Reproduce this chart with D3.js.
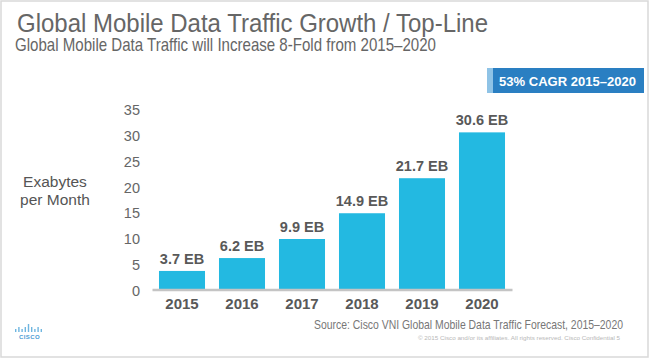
<!DOCTYPE html>
<html><head><meta charset="utf-8">
<script src="https://cdn.jsdelivr.net/npm/d3@7"></script>
<style>
html,body{margin:0;padding:0;background:#fff;}
svg{display:block;font-family:"Liberation Sans",Arial,Helvetica,sans-serif;}
</style></head>
<body>
<svg id="chart" width="650" height="359"></svg>
<script>
const years = ["2015","2016","2017","2018","2019","2020"];
const traffic = [3.7, 6.2, 9.9, 14.9, 21.7, 30.6];
const valueLabels = ["3.7 EB","6.2 EB","9.9 EB","14.9 EB","21.7 EB","30.6 EB"];
const yTicks = [0,5,10,15,20,25,30,35];
const titleText = "Global Mobile Data Traffic Growth / Top-Line";
const subtitleText = "Global Mobile Data Traffic will Increase 8-Fold from 2015\u20132020";
const cagrText = "53% CAGR 2015\u20132020";
const yLabelLines = ["Exabytes","per Month"];
const sourceText = "Source: Cisco VNI Global Mobile Data Traffic Forecast, 2015\u20132020";
const copyrightText = "\u00A9 2015  Cisco and/or its affiliates. All rights reserved.    Cisco Confidential          5";

const svg = d3.select("#chart");

// frame
svg.append("rect").attr("x",1).attr("y",1).attr("width",647).attr("height",356)
  .attr("fill","#fff").attr("stroke","#d9d9d9").attr("stroke-width",1.5);

// titles
svg.append("text").attr("x",17).attr("y",32).attr("font-size",26.5).attr("fill","#666")
  .attr("textLength",471).attr("lengthAdjust","spacingAndGlyphs").text(titleText);
svg.append("text").attr("x",15).attr("y",50.5).attr("font-size",19).attr("fill","#666")
  .attr("textLength",421).attr("lengthAdjust","spacingAndGlyphs").text(subtitleText);

// CAGR box
svg.append("rect").attr("x",487).attr("y",68).attr("width",157).attr("height",25).attr("fill","#2a7fc2");
svg.append("rect").attr("x",487).attr("y",68).attr("width",6).attr("height",25).attr("fill","#8fc3e6");
svg.append("text").attr("x",499).attr("y",85.5).attr("font-size",13).attr("font-weight","bold")
  .attr("fill","#fff").attr("textLength",137).attr("lengthAdjust","spacingAndGlyphs").text(cagrText);

// scales
const x = d3.scaleBand().domain(years).range([152,512]).paddingInner(0.233).paddingOuter(0.1165);
const y = d3.scaleLinear().domain([0,35]).range([290,109.7]);

// y axis ticks (text only)
const yAxis = d3.axisLeft(y).tickValues(yTicks).tickSize(0).tickPadding(0);
const gy = svg.append("g").attr("transform","translate(140,0)").call(yAxis);
gy.select(".domain").remove();
gy.selectAll("text").attr("font-size",14.5).attr("fill","#666")
  .attr("font-family","Liberation Sans, Arial, sans-serif").attr("dy","0.36em");

// y label
svg.append("text").attr("text-anchor","middle").attr("font-size",15.5).attr("fill","#555")
  .selectAll("tspan").data(yLabelLines).join("tspan")
  .attr("x",55).attr("y",(d,i)=>187+i*18).text(d=>d);

// bars
svg.append("g").selectAll("rect").data(traffic).join("rect")
  .attr("x",(d,i)=>x(years[i])).attr("width",x.bandwidth())
  .attr("y",d=>y(d)).attr("height",d=>y(0)-y(d)).attr("fill","#23b9e1");

// value labels
svg.append("g").selectAll("text").data(traffic).join("text")
  .attr("x",(d,i)=>x(years[i])+x.bandwidth()/2).attr("y",d=>y(d)-7)
  .attr("text-anchor","middle").attr("font-size",14.5).attr("font-weight","bold").attr("fill","#595959")
  .text((d,i)=>valueLabels[i]);

// x axis
const xAxis = d3.axisBottom(x).tickSize(0).tickPadding(0);
const gx = svg.append("g").attr("transform","translate(0,289.5)").call(xAxis);
gx.select(".domain").attr("stroke","#c4c4c4").attr("stroke-width",2.5);
gx.selectAll("text").attr("font-size",15).attr("font-weight","bold").attr("fill","#595959")
  .attr("font-family","Liberation Sans, Arial, sans-serif").attr("dy",null).attr("y",19.5);

// source
svg.append("text").attr("x",314).attr("y",329).attr("font-size",13).attr("fill","#777")
  .attr("textLength",309).attr("lengthAdjust","spacingAndGlyphs").text(sourceText);
svg.append("text").attr("x",418).attr("y",339.5).attr("font-size",5).attr("fill","#b8b8b8")
  .attr("textLength",202).attr("lengthAdjust","spacingAndGlyphs").text(copyrightText);

// cisco logo (decorative)
const logo = svg.append("g").attr("transform","translate(15,324)");
const barH = [3,5,3,5,8,5,3,5,3];
logo.selectAll("rect").data(barH).join("rect")
  .attr("x",(d,i)=>i*3.2).attr("y",d=>8-d).attr("width",1.4).attr("height",d=>d).attr("fill","#6fb6e0");
logo.append("text").attr("x",14.5).attr("y",15).attr("text-anchor","middle").attr("font-size",6)
  .attr("font-weight","bold").attr("fill","#4a9bd4").attr("letter-spacing",0.4).text("CISCO");
</script>
</body></html>
